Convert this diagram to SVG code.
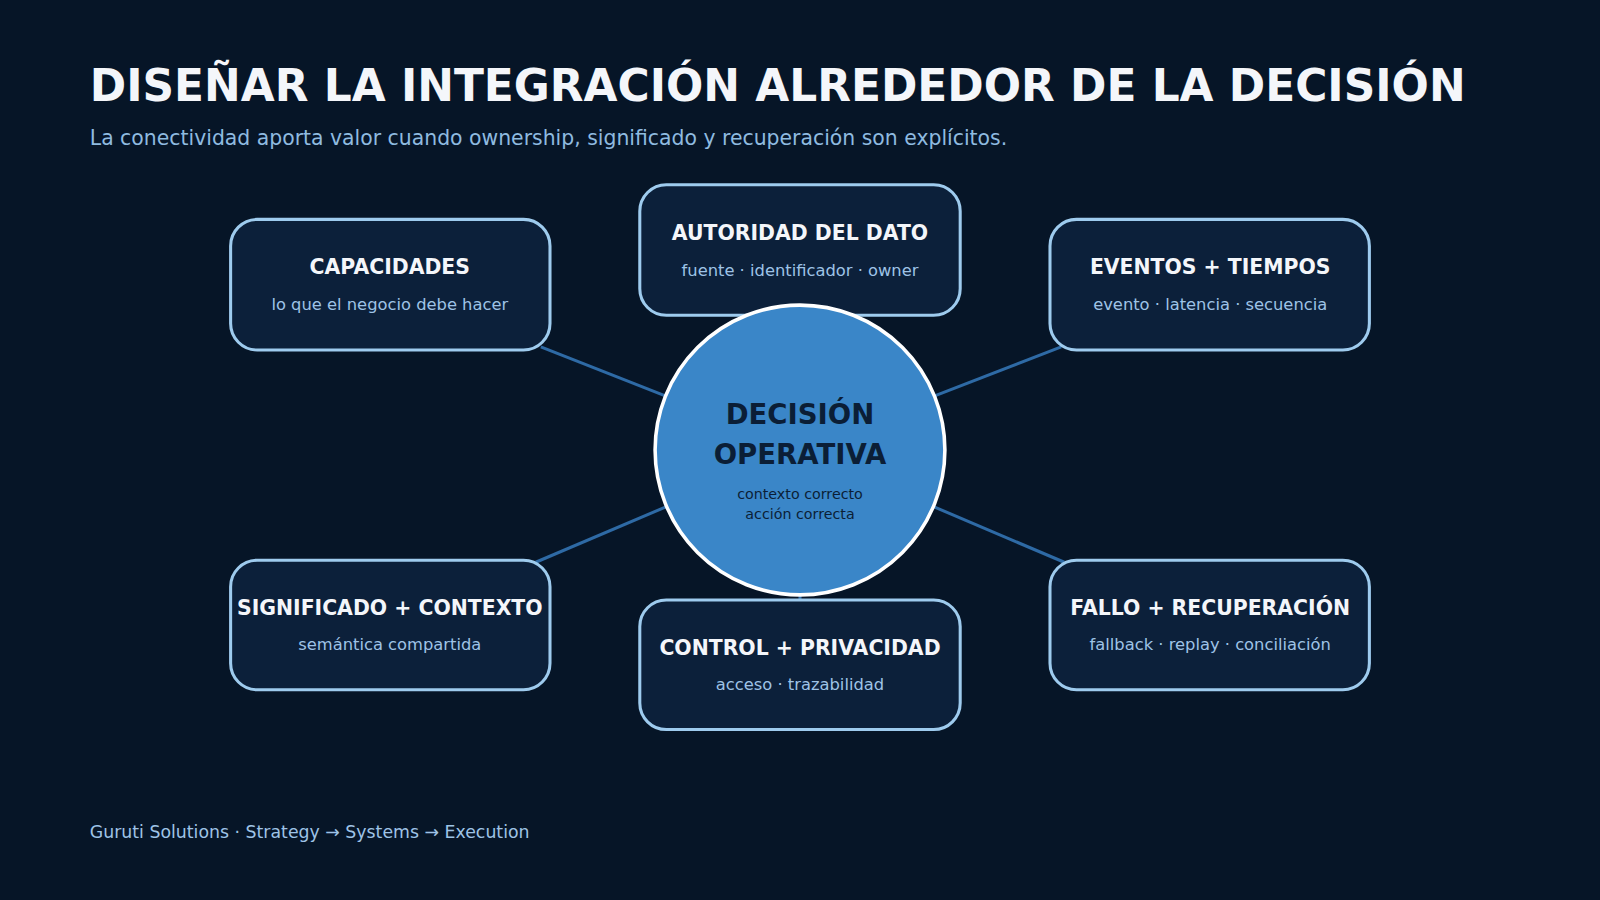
<svg xmlns="http://www.w3.org/2000/svg" width="1600" height="900" viewBox="0 0 1600 900">
<style>
.t{font-family:"DejaVu Sans",sans-serif}
.box{fill:#0c203a;stroke:#9ecbee;stroke-width:3}
.h{font-weight:bold;font-size:20px;fill:#f4f6fa;text-anchor:middle}
.s{font-size:16px;fill:#9ec3e6;text-anchor:middle}
.c{stroke:#2e6aa5;stroke-width:3}
</style>
<rect width="1600" height="900" fill="#061527"/>
<g transform="scale(1.0204)">
<text class="t" x="88" y="99" font-size="43" font-weight="bold" fill="#f4f6fa">DISEÑAR LA INTEGRACIÓN ALREDEDOR DE LA DECISIÓN</text>
<text class="t" x="88" y="142" font-size="20" fill="#8fbbe0">La conectividad aporta valor cuando ownership, significado y recuperación son explícitos.</text>
<g id="connectors">
<line class="c" x1="530" y1="340" x2="652" y2="388"/>
<line class="c" x1="916" y1="388" x2="1040" y2="340"/>
<line class="c" x1="652" y1="497" x2="525" y2="551"/>
<line class="c" x1="916" y1="497" x2="1043" y2="551"/>
<line class="c" x1="784" y1="299" x2="784" y2="309"/>
<line class="c" x1="784" y1="583" x2="784" y2="588"/>
</g>
<g id="capacidades"><rect class="box" x="226" y="215" width="313" height="128" rx="26"/>
<text class="t h" x="382" y="269">CAPACIDADES</text><text class="t s" x="382" y="304">lo que el negocio debe hacer</text></g>
<g id="autoridad"><rect class="box" x="627" y="181" width="314" height="128" rx="26"/>
<text class="t h" x="784" y="235">AUTORIDAD DEL DATO</text><text class="t s" x="784" y="270">fuente · identificador · owner</text></g>
<g id="eventos"><rect class="box" x="1029" y="215" width="313" height="128" rx="26"/>
<text class="t h" x="1186" y="269">EVENTOS + TIEMPOS</text><text class="t s" x="1186" y="304">evento · latencia · secuencia</text></g>
<g id="significado"><rect class="box" x="226" y="549" width="313" height="127" rx="26"/>
<text class="t h" x="382" y="603" font-size="18">SIGNIFICADO + CONTEXTO</text><text class="t s" x="382" y="637">semántica compartida</text></g>
<g id="control"><rect class="box" x="627" y="588" width="314" height="127" rx="26"/>
<text class="t h" x="784" y="642">CONTROL + PRIVACIDAD</text><text class="t s" x="784" y="676">acceso · trazabilidad</text></g>
<g id="fallo"><rect class="box" x="1029" y="549" width="313" height="127" rx="26"/>
<text class="t h" x="1186" y="603">FALLO + RECUPERACIÓN</text><text class="t s" x="1186" y="637">fallback · replay · conciliación</text></g>
<g id="decision"><circle cx="784" cy="441" r="142" fill="#3a86c8" stroke="#ffffff" stroke-width="3.5"/>
<text class="t" x="784" y="416" font-size="27" font-weight="bold" fill="#0b1e36" text-anchor="middle">DECISIÓN</text>
<text class="t" x="784" y="455" font-size="27" font-weight="bold" fill="#0b1e36" text-anchor="middle">OPERATIVA</text>
<text class="t" x="784" y="489" font-size="14" fill="#0b1e36" text-anchor="middle">contexto correcto</text>
<text class="t" x="784" y="509" font-size="14" fill="#0b1e36" text-anchor="middle">acción correcta</text></g>
<text class="t" x="88" y="821" font-size="17" fill="#9ec3e6">Guruti Solutions · Strategy → Systems → Execution</text>
</g>
</svg>
